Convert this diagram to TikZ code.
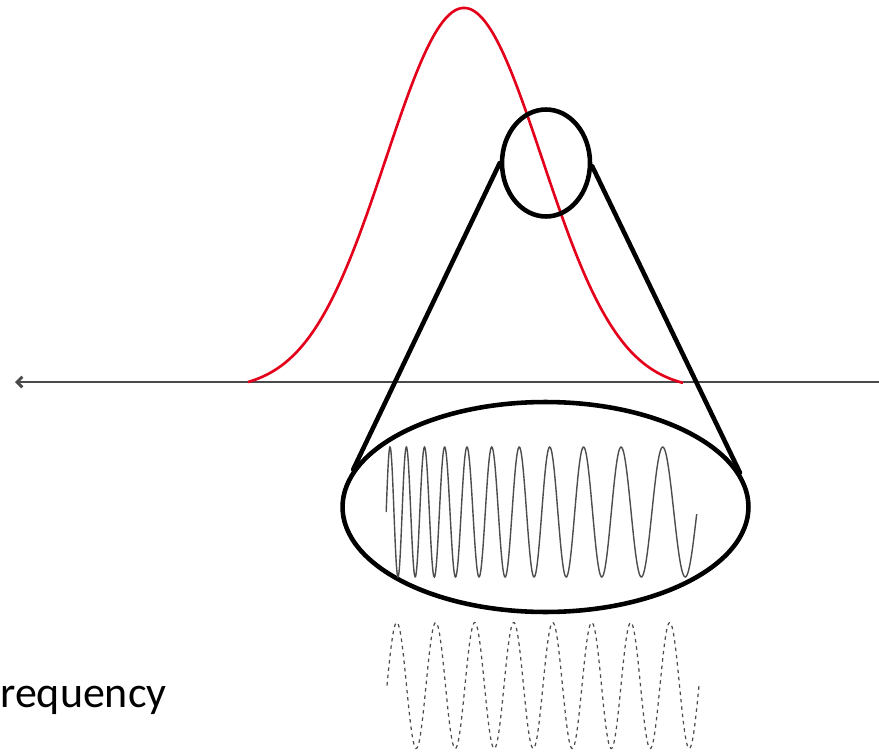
\documentclass[tikz,border=0pt]{standalone}
\usepackage{fontspec}
\usepackage{tikz}
\usetikzlibrary{arrows.meta,positioning,shapes.geometric}
\newfontfamily\labelfont{Carlito}
\definecolor{bell-red}{HTML}{E2001A}
\definecolor{axisgrey}{HTML}{4A4A4A}
\definecolor{wavegrey}{HTML}{4D4D4D}

\begin{document}
\begin{tikzpicture}[x=0.02cm, y=-0.02cm,
  ring/.style={draw, ellipse, inner sep=0pt, line width=2.6pt},
  tangent/.style={line width=2.6pt, line cap=round},
  bell/.style={bell-red, line width=1.5pt},
  axisline/.style={axisgrey, line width=1.1pt, -{Straight Barb[length=3pt, width=6pt, line width=1.7pt]}},
  chirp/.style={wavegrey, line width=0.8pt},
  tone/.style={wavegrey, line width=0.7pt, dash pattern=on 2pt off 2.2pt}
]
  \useasboundingbox (0,0) rectangle (879,753);

  % frequency axis
  \coordinate (axisR) at (879,382);
  \coordinate (axisL) at (15,382);
  \draw[axisline] (axisR) -- (axisL);

  % spectrum bump
  \draw[bell] plot[domain=-216:219, samples=200, variable=\d]
    ({464+\d}, {390.3-382.3*exp(-0.5*(\d/78)*(\d/78))});

  % magnifier
  \node[ring, minimum width=1.76cm, minimum height=2.14cm] (spot) at (546,163) {};
  \node[ring, minimum width=8.12cm, minimum height=4.2cm] (lens) at (545.5,507) {};
  \draw[tangent] (spot.west) -- (lens.169);
  \draw[tangent] (spot.-4) -- (lens.10);

  % chirped signal inside the lens
  \draw[chirp] plot[domain=0:11, samples=500, variable=\t]
    ({240.7+145.5*exp(0.1039*\t)}, {512-65*sin(360*\t)});

  % steady tone below
  \draw[tone] plot[domain=0:8, samples=400, variable=\t]
    ({387+39*\t}, {685.5-63*sin(360*\t)});

  \node[font=\labelfont\fontsize{25}{30}\selectfont, anchor=base west, inner sep=0pt] (freq) at (0,707) {requency};
\end{tikzpicture}
\end{document}
